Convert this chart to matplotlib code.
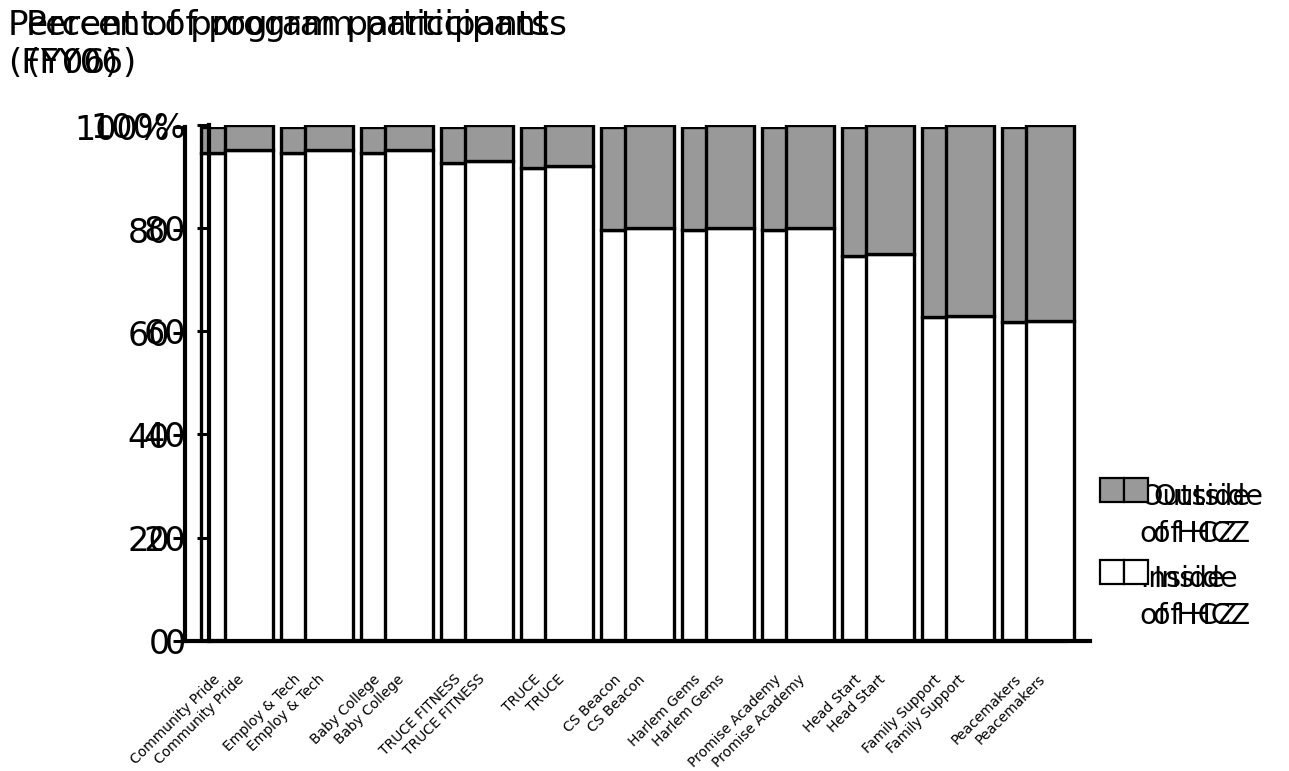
import matplotlib
matplotlib.use("Agg")
import matplotlib.pyplot as plt
import matplotlib.patches as mpatches
import matplotlib.transforms as mtransforms
from matplotlib.legend_handler import HandlerPatch
import numpy as np

# Share of each program's participants living inside / outside the HCZ
programs = ["Community Pride", "Employ & Tech", "Baby College", "TRUCE FITNESS",
            "TRUCE", "CS Beacon", "Harlem Gems", "Promise Academy", "Head Start",
            "Family Support", "Peacemakers"]
inside_hcz = [95, 95, 95, 93, 92, 80, 80, 80, 75, 63, 62]
outside_hcz = [100 - v for v in inside_hcz]

y_ticks = [0, 20, 40, 60, 80, 100]
y_tick_labels = ["0", "20", "40", "60", "80", "100%"]
legend_labels = ["Outside\nof HCZ", "Inside\nof HCZ"]
title_text = "Percent of program participants\n(FY06)"

W, H = 1289, 771
plt.rcParams["font.family"] = ["DejaVu Sans"]
fig = plt.figure(figsize=(W / 100, H / 100), dpi=100)

GREY = "#999999"
BASE_Y = 641  # pixel row of the zero line
LEG_FS = 20.5
LEG_PX = LEG_FS * 100 / 72


def top_aligned_patch(legend, orig_handle, xdescent, ydescent, width, height,
                      fontsize):
    # key box lined up with the first line of a two-line label
    return mpatches.Rectangle((-xdescent, -ydescent + 0.92 * fontsize),
                              width, height)


# the chart is printed twice, the second pass slightly shifted
layers = [
    dict(left=185, top=127.0, ypad=3, title_dx=0, legend_dx=0, textpad=16),
    dict(left=209, top=124.5, ypad=11, title_dx=18, legend_dx=24, textpad=5),
]

x = np.arange(len(programs))
for z, L in enumerate(layers):
    ax = fig.add_axes([L["left"] / W, (H - BASE_Y) / H, 881 / W,
                       (BASE_Y - L["top"]) / H], zorder=z + 1)
    ax.set_facecolor("none")
    inside = ax.bar(x, inside_hcz, width=0.6, color="white",
                    edgecolor="black", linewidth=2.4)
    outside = ax.bar(x, outside_hcz, bottom=inside_hcz, width=0.6, color=GREY,
                     edgecolor="black", linewidth=2.4)
    ax.set_xlim(-0.5, len(programs) - 0.5)
    ax.set_ylim(0, 100)
    for s in ("top", "right"):
        ax.spines[s].set_visible(False)
    for s in ("left", "bottom"):
        ax.spines[s].set_linewidth(3)
    ax.set_yticks(y_ticks, y_tick_labels, fontsize=24)
    ax.tick_params(axis="y", direction="out", length=8.6, width=2.2,
                   pad=L["ypad"] * 0.72)
    ax.set_xticks(x, programs, fontsize=10, rotation=45, ha="right",
                  va="center", rotation_mode="anchor")
    ax.tick_params(axis="x", length=0, pad=26)
    shift = mtransforms.ScaledTranslation(-0.07, 0, fig.dpi_scale_trans)
    for lab in ax.get_xticklabels():
        lab.set_transform(lab.get_transform() + shift)

    leg = ax.legend([outside.patches[0], inside.patches[0]], legend_labels,
                    handler_map={mpatches.Rectangle:
                                 HandlerPatch(patch_func=top_aligned_patch)},
                    loc="upper left",
                    bbox_to_anchor=((1100 + L["legend_dx"]) / W, (H - 483) / H),
                    bbox_transform=fig.transFigure, frameon=False,
                    fontsize=LEG_FS, handlelength=24 / LEG_PX,
                    handleheight=26 / LEG_PX,
                    handletextpad=L["textpad"] / LEG_PX, labelspacing=0.6,
                    borderpad=0, borderaxespad=0)
    for t in leg.get_texts():
        t.set_linespacing(1.4)
    for h in leg.legend_handles:
        h.set_linewidth(1.6)

    fig.text((8 + L["title_dx"]) / W, 1 - 9 / H, title_text, fontsize=24.5,
             ha="left", va="top", linespacing=1.2)

fig.savefig("out.png", dpi=100)
